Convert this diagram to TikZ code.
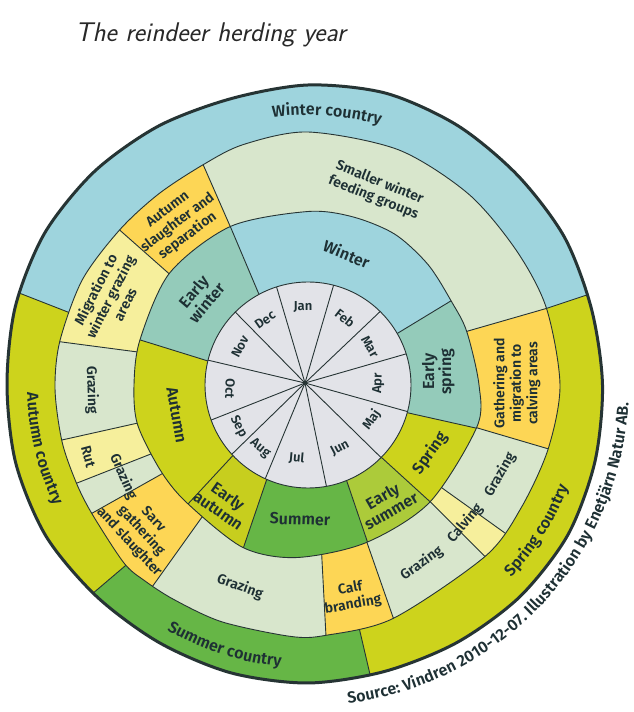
\documentclass[tikz,border=0pt]{standalone}
\usepackage{fontspec}
\usetikzlibrary{calc,decorations.text}
\IfFontExistsTF{Fira Sans SemiBold}
 {\newfontfamily\labfont{Fira Sans SemiBold}}
 {\newfontfamily\labfontb{Fira Sans}\def\labfont{\labfontb\bfseries}}
\definecolor{txt}{RGB}{30,48,52}
\definecolor{titlec}{RGB}{40,40,40}
\definecolor{linec}{RGB}{38,52,52}
\definecolor{mongray}{RGB}{226,227,232}
\definecolor{wblue}{RGB}{158,212,221}
\definecolor{eteal}{RGB}{148,203,186}
\definecolor{ygreen}{RGB}{205,211,28}
\definecolor{eautumn}{RGB}{199,206,30}
\definecolor{esummer}{RGB}{172,203,58}
\definecolor{sgreen}{RGB}{102,182,70}
\definecolor{pgreen}{RGB}{216,230,204}
\definecolor{orng}{RGB}{253,214,85}
\definecolor{pyell}{RGB}{246,239,156}
% sector: colour, inner angle A, outer angle A, inner angle B, outer angle B, r in, r out
\newcommand\mysec[7]{\fill[#1] (0,0) -- (#2:#6) -- (#3:#7) -- (#3:430) arc[start angle=#3, end angle=#5, radius=430] -- (#5:#7) -- (#4:#6) -- cycle;}
\newcommand\mydiv[4]{\draw[divline] ($(#1:#3)!-0.12!(#2:#4)$) -- ($(#1:#3)!1.2!(#2:#4)$);}
\newcommand\bndone{plot[smooth cycle] coordinates {(0:171) (18.6:167.5) (30:166) (45:170) (60:174) (75:174) (90:173.5) (116:176.5) (141:178) (165:174) (180:174) (193:175) (210:170.5) (224:169) (248:175) (266:173) (290:168) (316:169) (346:174)}}
\newcommand\bndtwo{plot[smooth cycle] coordinates {(0:252) (18:250.5) (33:248) (50:249.5) (69:252) (90:253) (105:249) (115.4:244) (128:242.5) (140.5:244) (155:249) (170:252) (181:253) (193:252.4) (203:251.5) (211:251.5) (224:256) (230:255) (238:253) (250:252) (266:252) (274:251) (290:248.5) (316:246.5) (330:246) (345:248.5)}}
\newcommand\bndthree{plot[smooth cycle] coordinates {(0:294.5) (15:293.5) (30:296) (45:296.5) (60:299.5) (75:302) (90:300) (105:296.5) (120:299) (135:302) (150:304) (165:303) (180:301) (195:302.5) (210:302.5) (225:299) (240:297.5) (255:298) (270:298) (285:296.5) (300:297.5) (315:299.5) (330:300) (345:297)}}
\tikzset{
  divline/.style={draw=linec, line width=0.9pt},
  outline/.style={draw=linec, line width=3pt},
  lab/.style={text=txt, align=center, inner sep=0pt},
  monlab/.style={lab, font=\labfont\fontsize{13}{15}\selectfont},
  seaslab/.style={lab, font=\labfont\fontsize{16}{17}\selectfont},
  actlab/.style={lab, font=\labfont\fontsize{14}{16.5}\selectfont},
  curvtext/.style={decorate, decoration={text along path, text align=center, text color=txt, text={|\labfont\fontsize{16}{18}\selectfont|#1}}}
}
\begin{document}
\begin{tikzpicture}[x=1pt,y=1pt]
\useasboundingbox (0,0) rectangle (634,712);
\fill[white] (0,0) rectangle (634,712);
\node[anchor=base west, font=\sffamily\itshape\fontsize{27}{31}\selectfont, text=titlec, inner sep=0pt] (title) at (75,670.3) {The reindeer herding year};
\begin{scope}[shift={(308,327)}]
  % outer ring: countries
  \begin{scope}
    \clip \bndthree;
    \mysec{ygreen}{-78.1}{-77.9}{17.8}{17.9}{251}{298}
    \mysec{wblue}{17.8}{17.9}{163.1}{162.4}{251}{298}
    \mysec{ygreen}{163.1}{162.4}{224.8}{224.1}{251}{298}
    \mysec{sgreen}{224.8}{224.1}{281.9}{282.1}{251}{298}
    \mydiv{17.8}{17.9}{251}{298}
    \mydiv{163.1}{162.4}{251}{298}
    \mydiv{224.8}{224.1}{251}{298}
    \mydiv{281.9}{282.1}{251}{298}
  \end{scope}
  % middle ring: activities
  \begin{scope}
    \clip \bndtwo;
    \mysec{orng}{-14.2}{-14.9}{18.6}{17.8}{172}{251}
    \mysec{pgreen}{18.6}{17.8}{116.2}{115.4}{172}{251}
    \mysec{orng}{116.2}{115.4}{141.4}{140.5}{172}{251}
    \mysec{pyell}{141.4}{140.5}{169}{170.1}{172}{251}
    \mysec{pgreen}{169}{170.1}{192.6}{192.6}{172}{251}
    \mysec{pyell}{192.6}{192.6}{203.7}{203}{172}{251}
    \mysec{pgreen}{203.7}{203}{211.3}{210.7}{172}{251}
    \mysec{orng}{211.3}{210.7}{231.3}{232.3}{172}{251}
    \mysec{pgreen}{231.3}{232.3}{274.6}{274.1}{172}{251}
    \mysec{orng}{274.6}{274.1}{290.5}{290.1}{172}{251}
    \mysec{pgreen}{290.5}{290.1}{316.3}{315.9}{172}{251}
    \mysec{pyell}{316.3}{315.9}{322.5}{323.1}{172}{251}
    \mysec{pgreen}{322.5}{323.1}{345.8}{345.1}{172}{251}
    \mydiv{-14.2}{-14.9}{172}{251}
    \mydiv{18.6}{17.8}{172}{251}
    \mydiv{116.2}{115.4}{172}{251}
    \mydiv{141.4}{140.5}{172}{251}
    \mydiv{169}{170.1}{172}{251}
    \mydiv{192.6}{192.6}{172}{251}
    \mydiv{203.7}{203}{172}{251}
    \mydiv{211.3}{210.7}{172}{251}
    \mydiv{231.3}{232.3}{172}{251}
    \mydiv{274.6}{274.1}{172}{251}
    \mydiv{290.5}{290.1}{172}{251}
    \mydiv{316.3}{315.9}{172}{251}
    \mydiv{322.5}{323.1}{172}{251}
  \end{scope}
  % inner ring: seasons
  \begin{scope}
    \clip \bndone;
    \mysec{eteal}{-15.6}{-14.4}{30}{30.5}{103}{172}
    \mysec{wblue}{30}{30.5}{118.4}{116.2}{103}{172}
    \mysec{eteal}{118.4}{116.2}{166.5}{165}{103}{172}
    \mysec{ygreen}{166.5}{165}{223.2}{224.8}{103}{172}
    \mysec{eautumn}{223.2}{224.8}{246.4}{248.3}{103}{172}
    \mysec{sgreen}{246.4}{248.3}{292}{290.7}{103}{172}
    \mysec{esummer}{292}{290.7}{315.4}{316.3}{103}{172}
    \mysec{ygreen}{315.4}{316.3}{344.4}{345.6}{103}{172}
    \mydiv{-15.6}{-14.4}{103}{172}
    \mydiv{30}{30.5}{103}{172}
    \mydiv{118.4}{116.2}{103}{172}
    \mydiv{166.5}{165}{103}{172}
    \mydiv{223.2}{224.8}{103}{172}
    \mydiv{246.4}{248.3}{103}{172}
    \mydiv{292}{290.7}{103}{172}
    \mydiv{315.4}{316.3}{103}{172}
  \end{scope}
  % centre: months
  \fill[mongray] (0,0) circle (103);
  \begin{scope}
    \clip (0,0) circle (103);
    \coordinate (hub) at (-3,2);
    \foreach \a in {107.7,75.5,45.4,17.5,-15,-44.8,-79.6,-114.4,-137.6,-160,166.1,134.9}
      \draw[divline] (hub) -- (\a:110);
  \end{scope}
  % ring outlines
  \draw[divline] (0,0) circle (103);
  \draw[divline] \bndone;
  \draw[divline] \bndtwo;
  \draw[outline] \bndthree;
  % curved labels
  \path[curvtext={Winter country}] (116:270) arc[start angle=116, end angle=56, radius=270];
  \path[curvtext={Autumn country}] (163.5:281) arc[start angle=163.5, end angle=223.5, radius=281];
  \path[curvtext={Summer country}] (222.3:283) arc[start angle=222.3, end angle=282.3, radius=283];
  \path[curvtext={Spring country}] (-62.4:279.5) arc[start angle=-62.4, end angle=-2.4, radius=279.5];
  \path[curvtext={Source: Vindren 2010-12-07. Illustration by Enetjärn Natur AB.}] (-100:321) arc[start angle=-100, end angle=14, radius=321];
\end{scope}
% months
\node[monlab] (jan) at (303,405) {Jan};
\node[monlab, rotate=-38] (feb) at (345,393.7) {Feb};
\node[monlab, rotate=-60] (mar) at (370,365.3) {Mar};
\node[monlab, rotate=88] (apr) at (378.3,328.7) {Apr};
\node[monlab, rotate=55] (maj) at (371.7,292) {Maj};
\node[monlab, rotate=28] (jun) at (340,263.7) {Jun};
\node[monlab, rotate=-5] (jul) at (296.7,253.7) {Jul};
\node[monlab, rotate=-40] (aug) at (260,263.7) {Aug};
\node[monlab, rotate=-62] (sep) at (238.3,285.3) {Sep};
\node[monlab, rotate=-92] (oct) at (230,323.7) {Oct};
\node[monlab, rotate=62] (nov) at (240,365.3) {Nov};
\node[monlab, rotate=35] (dec) at (265,392) {Dec};
% seasons
\node[seaslab, rotate=-22] (winter) at (346.7,458) {Winter};
\node[seaslab, rotate=50] (ewinter) at (200,415) {Early\\winter};
\node[seaslab, rotate=90] (espring) at (438.3,340.3) {Early\\spring};
\node[seaslab, rotate=55] (spring) at (430,258.7) {Spring};
\node[seaslab, rotate=30] (esummer) at (386.7,208.7) {Early\\summer};
\node[seaslab, rotate=-2] (summer) at (300,192.7) {Summer};
\node[seaslab, rotate=-35] (eautumn) at (223.3,208.7) {Early\\autumn};
\node[seaslab, rotate=-80] (autumn) at (176.7,297) {Autumn};
% activities
\node[actlab, rotate=90] (gath) at (516.7,328.7) {Gathering and\\migration to\\calving areas};
\node[actlab, rotate=-22] (smaller) at (376.7,522) {Smaller winter\\feeding groups};
\node[actlab, rotate=37] (autsl) at (178,489) {Autumn\\slaughter and\\separation};
\node[actlab, rotate=63] (migr) at (110,415.3) {Migration to\\winter grazing\\areas};
\node[actlab, rotate=-88] (grazl) at (91.7,322) {Grazing};
\node[actlab, rotate=-75] (rut) at (88.3,255.3) {Rut};
\node[actlab, rotate=-66] (grazs) at (123.3,235.3) {Grazing};
\node[actlab, rotate=-47] (sarv) at (141,181) {Sarv\\gathering\\and slaughter};
\node[actlab, rotate=-20] (grazb) at (240,125.3) {Grazing};
\node[actlab, rotate=10] (calf) at (351.7,115.3) {Calf\\branding};
\node[actlab, rotate=35] (grazlr) at (421.7,148.7) {Grazing};
\node[actlab, rotate=50] (calving) at (465,188.7) {Calving};
\node[actlab, rotate=60] (grazr) at (500,237) {Grazing};
\end{tikzpicture}
\end{document}
